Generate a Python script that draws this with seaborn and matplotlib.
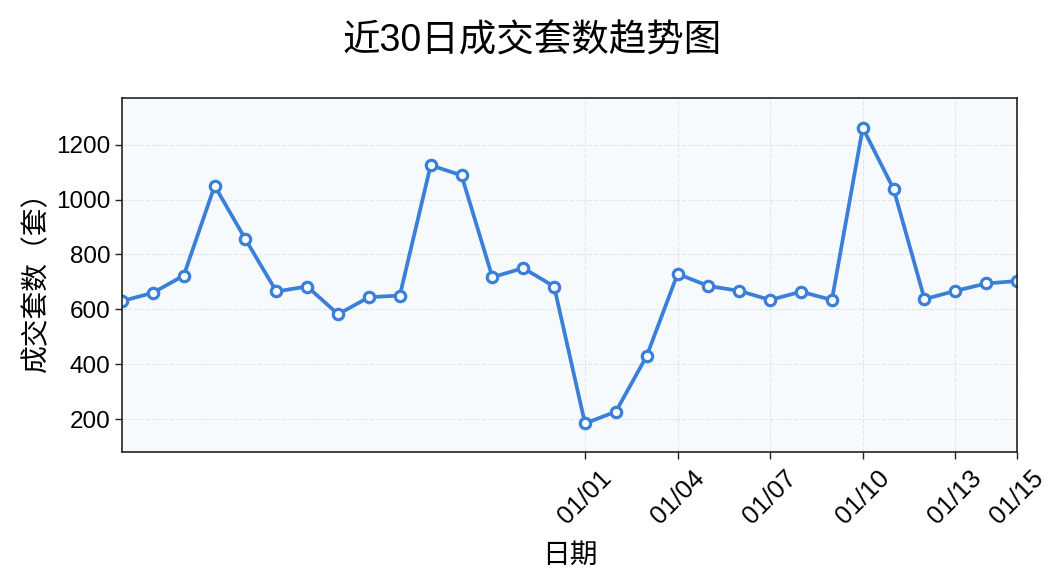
import matplotlib
matplotlib.use("Agg")
import matplotlib.pyplot as plt
import matplotlib.dates as mdates
import seaborn as sns
import pandas as pd

# Daten: 30 Tage, 12/17 bis 01/15
start_date = "2023-12-17"
n_days = 30
deals = [630, 660, 723, 1050, 855, 665, 683, 582, 644, 650,
         1125, 1088, 717, 750, 683, 184, 227, 430, 729, 685,
         667, 634, 664, 634, 1261, 1038, 637, 667, 694, 703]
tick_dates = ["2024-01-01", "2024-01-04", "2024-01-07",
              "2024-01-10", "2024-01-13", "2024-01-15"]

df = pd.DataFrame({
    "Datum": pd.date_range(start_date, periods=n_days, freq="D"),
    "Anzahl": deals,
})

sns.set_style("white")
plt.rcParams["font.family"] = ["Liberation Sans", "Noto Sans CJK SC", "DejaVu Sans"]
plt.rcParams["text.color"] = "black"
plt.rcParams["axes.labelcolor"] = "black"
plt.rcParams["xtick.color"] = "black"
plt.rcParams["ytick.color"] = "black"

fig = plt.figure(figsize=(10.64, 5.85), dpi=100)
ax = fig.add_axes([0.1147, 0.2274, 0.8412, 0.6051])
ax.set_facecolor("#f7fafd")

sns.lineplot(data=df, x="Datum", y="Anzahl", ax=ax, color="#3a7fd8",
             linewidth=2.7, marker="o", markersize=7.5,
             markerfacecolor="white", markeredgecolor="#3a7fd8",
             markeredgewidth=2.3)

ax.set_xlim(df["Datum"].iloc[0], df["Datum"].iloc[-1])
ax.set_ylim(80, 1370)
ax.set_yticks([200, 400, 600, 800, 1000, 1200])
ax.set_xticks(pd.to_datetime(tick_dates))
ax.xaxis.set_major_formatter(mdates.DateFormatter("%m/%d"))

ax.grid(True, linestyle="--", color="#dde1e6", linewidth=0.8, alpha=0.8)
for s in ax.spines.values():
    s.set_color("#222222")
    s.set_linewidth(1.2)
ax.tick_params(axis="both", which="major", length=5, width=1, color="#222222",
               bottom=True, left=True)
ax.tick_params(axis="y", labelsize=17.5)
ax.tick_params(axis="x", labelsize=18.5, pad=5)
plt.setp(ax.get_xticklabels(), rotation=45, ha="center", rotation_mode="default")

ax.set_xlabel("日期", fontsize=20, labelpad=10)
ax.set_ylabel("成交套数（套）", fontsize=20, labelpad=4)
fig.suptitle("近30日成交套数趋势图", fontsize=27, y=0.96)

plt.savefig("out.png", dpi=100)
plt.close()
